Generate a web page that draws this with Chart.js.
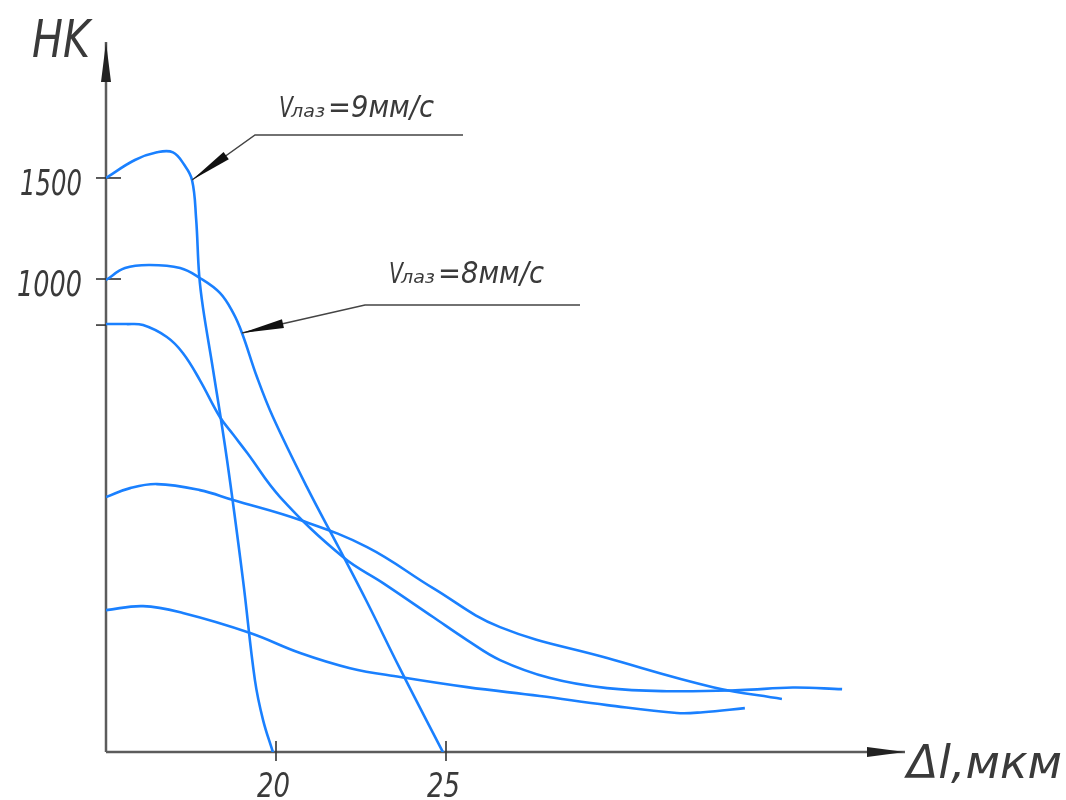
<!DOCTYPE html>
<html>
<head>
<meta charset="utf-8">
<script src="https://cdn.jsdelivr.net/npm/chart.js@4"></script>
<style>
  html, body { margin: 0; background: #fff; }
</style>
</head>
<body>
<canvas id="chart" width="1066" height="800" style="width:1066px;height:800px"></canvas>
<script>
// Curve for V = 9 mm/s (steep one)
const curve9X = [15.00, 15.85, 16.50, 16.97, 17.30, 17.53, 17.65, 17.74, 17.85, 18.15, 18.56, 19.03, 19.38, 19.62, 19.91];
const curve9Y = [1500, 1589, 1627, 1627, 1565, 1490, 1300, 1020, 861, 550, 104, -490, -985, -1183, -1342];
// Curve for V = 8 mm/s
const curve8X = [15.00, 15.56, 16.29, 17.18, 17.76, 18.35, 18.74, 19.00, 19.44, 19.91, 20.91, 21.88, 22.68, 23.65, 24.91];
const curve8Y = [995, 1054, 1069, 1054, 1005, 931, 832, 733, 515, 317, -30, -340, -600, -930, -1342];
// Other unlabeled curves
const curve3X = [15.00, 15.60, 16.09, 16.79, 17.26, 17.76, 18.35, 18.74, 19.15, 20.12, 21.97, 23.15, 24.62, 25.62, 26.59, 28.06, 29.74, 31.50, 33.65, 35.20, 36.65];
const curve3Y = [777, 777, 772, 713, 634, 500, 317, 230, 140, -79, -376, -505, -673, -787, -886, -975, -1025, -1040, -1035, -1022, -1030];
const curve4X = [15.00, 15.71, 16.50, 17.76, 18.74, 20.71, 22.68, 24.62, 26.59, 29.74, 32.85, 34.88];
const curve4Y = [-79, -35, -15, -45, -94, -193, -327, -530, -723, -876, -1020, -1079];
const curve5X = [15.00, 16.09, 17.26, 19.24, 20.71, 22.18, 23.65, 25.62, 27.76, 29.74, 31.79, 32.56, 33.79];
const curve5Y = [-639, -619, -653, -752, -851, -926, -970, -1020, -1064, -1109, -1148, -1144, -1124];

// Axis ticks
const yTickValues = [1500, 1000, 772];
const yTickLabels = ["1500", "1000", ""];
const xTickValues = [20, 25];
const xTickLabels = ["20", "25"];

const BLUE = "#1a80ff";
const INK = "#3a3a3a";
const FONT = '"DejaVu Sans", "Liberation Sans Narrow", sans-serif';

function pts(xs, ys) {
    return xs.map((x, i) => ({ x: x, y: ys[i] }));
}

// Draw italic text squeezed to a given width (GOST-like narrow lettering)
function fitText(ctx, txt, x, base, w, size) {
    ctx.font = "italic 200 " + size + "px " + FONT;
    const m = ctx.measureText(txt).width;
    ctx.save();
    ctx.translate(x, base);
    ctx.scale(w / m, 1);
    ctx.fillText(txt, 0, 0);
    ctx.restore();
}

function arrowHead(ctx, tipX, tipY, fromX, fromY, len, half) {
    const a = Math.atan2(fromY - tipY, fromX - tipX);
    const bx = tipX + Math.cos(a) * len, by = tipY + Math.sin(a) * len;
    const nx = -Math.sin(a) * half, ny = Math.cos(a) * half;
    ctx.beginPath();
    ctx.moveTo(tipX, tipY);
    ctx.lineTo(bx + nx, by + ny);
    ctx.lineTo(bx - nx, by - ny);
    ctx.closePath();
    ctx.fill();
}

const sketchAxes = {
    id: "sketchAxes",
    beforeDatasetsDraw(chart) {
        const ctx = chart.ctx;
        const xs = chart.scales.x, ys = chart.scales.y;
        const x0 = xs.getPixelForValue(15), y0 = ys.bottom;
        ctx.save();
        ctx.strokeStyle = "#5c5c5c";
        ctx.fillStyle = "#222";
        ctx.lineWidth = 2.5;
        // y axis
        ctx.beginPath();
        ctx.moveTo(x0, y0);
        ctx.lineTo(x0, ys.top);
        ctx.stroke();
        arrowHead(ctx, x0, ys.top, x0, y0, 40, 5);
        // x axis
        ctx.beginPath();
        ctx.moveTo(x0, y0);
        ctx.lineTo(xs.right, y0);
        ctx.stroke();
        arrowHead(ctx, xs.right, y0, x0, y0, 38, 5);

        // tick marks and labels
        ctx.lineWidth = 1.6;
        ctx.strokeStyle = "#333";
        ctx.fillStyle = INK;
        yTickValues.forEach((v, i) => {
            const py = ys.getPixelForValue(v);
            ctx.beginPath();
            ctx.moveTo(x0 - 10, py);
            ctx.lineTo(yTickLabels[i] ? x0 + 15 : x0, py);
            ctx.stroke();
            if (yTickLabels[i]) {
                const w = i === 0 ? 62 : 65;
                fitText(ctx, yTickLabels[i], x0 - 24 - w, py + 17, w, 36);
            }
        });
        xTickValues.forEach((v, i) => {
            const px = xs.getPixelForValue(v);
            ctx.beginPath();
            ctx.moveTo(px, y0 - 11);
            ctx.lineTo(px, y0 + 9);
            ctx.stroke();
            fitText(ctx, xTickLabels[i], px - 19, y0 + 45, 33, 34);
        });

        // axis titles
        fitText(ctx, "HK", x0 - 74, ys.top + 15, 58, 52);
        fitText(ctx, "Δl,мкм", xs.right + 2, y0 + 26, 155, 46);
        ctx.restore();
    },
    afterDatasetsDraw(chart) {
        const ctx = chart.ctx;
        const xs = chart.scales.x, ys = chart.scales.y;
        ctx.save();
        ctx.strokeStyle = "#444";
        ctx.lineWidth = 1.5;
        const notes = [
            { tx: curve9X[5], ty: curve9Y[5], elbow: [63, -45], end: 271, text: "=9мм/с", base: -63 },
            { tx: curve8X[7], ty: curve8Y[7], elbow: [123, -28], end: 338, text: "=8мм/с", base: -50 }
        ];
        notes.forEach(n => {
            const px = xs.getPixelForValue(n.tx), py = ys.getPixelForValue(n.ty);
            const ex = px + n.elbow[0], ey = py + n.elbow[1];
            ctx.beginPath();
            ctx.moveTo(px, py);
            ctx.lineTo(ex, ey);
            ctx.lineTo(px + n.end, ey);
            ctx.stroke();
            ctx.fillStyle = "#111";
            arrowHead(ctx, px, py, ex, ey, 42, 4.5);
            ctx.fillStyle = INK;
            const lx = ex + 24, base = py + n.base;
            fitText(ctx, "V", lx, base, 14, 28);
            fitText(ctx, "лаз", lx + 12, base, 34, 17);
            fitText(ctx, n.text, lx + 49, base, 106, 30);
        });
        ctx.restore();
    }
};

const lineStyle = {
    borderColor: BLUE,
    borderWidth: 2.6,
    pointRadius: 0,
    fill: false,
    tension: 0.4
};

new Chart(document.getElementById("chart"), {
    type: "line",
    data: {
        datasets: [
            Object.assign({ data: pts(curve9X, curve9Y) }, lineStyle),
            Object.assign({ data: pts(curve8X, curve8Y) }, lineStyle),
            Object.assign({ data: pts(curve3X, curve3Y) }, lineStyle),
            Object.assign({ data: pts(curve4X, curve4Y) }, lineStyle),
            Object.assign({ data: pts(curve5X, curve5Y) }, lineStyle)
        ]
    },
    options: {
        responsive: false,
        animation: false,
        devicePixelRatio: 1,
        layout: { padding: { left: 106, right: 161, top: 42, bottom: 48 } },
        scales: {
            x: { type: "linear", min: 15, max: 38.5, display: false },
            y: { type: "linear", min: -1341, max: 2173, display: false }
        },
        plugins: { legend: { display: false }, tooltip: { enabled: false } }
    },
    plugins: [sketchAxes]
});
</script>
</body>
</html>
